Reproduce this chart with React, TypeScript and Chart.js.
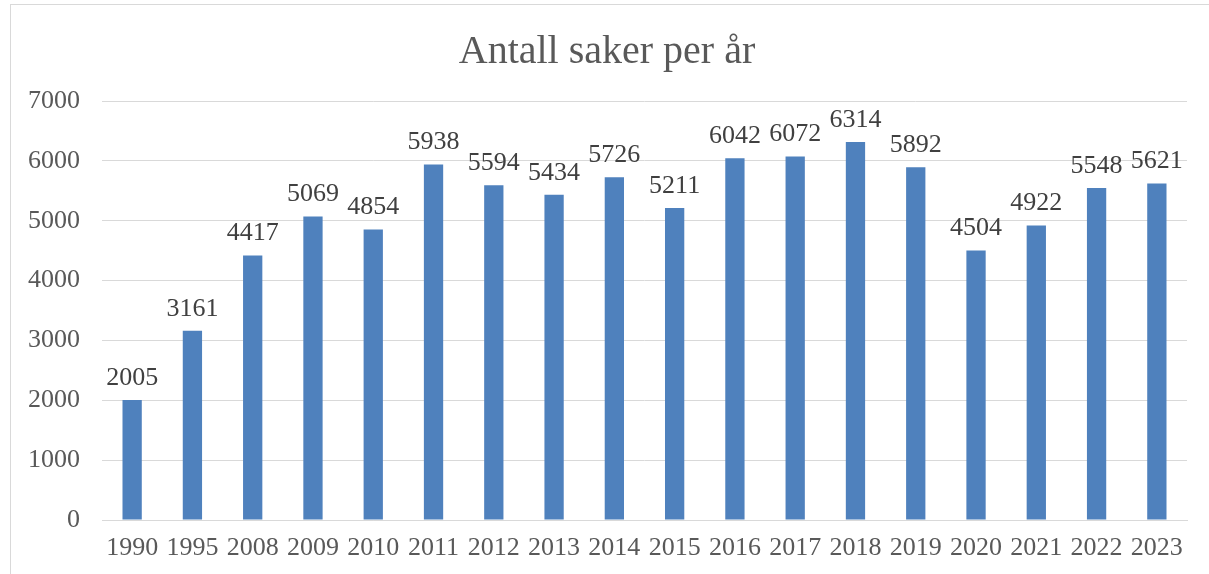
import React, { useEffect, useRef } from "react";
import { Chart, registerables } from "chart.js";

Chart.register(...registerables);

const categories: string[] = ["1990", "1995", "2008", "2009", "2010", "2011", "2012", "2013", "2014", "2015", "2016", "2017", "2018", "2019", "2020", "2021", "2022", "2023"];
const caseCounts: number[] = [2005, 3161, 4417, 5069, 4854, 5938, 5594, 5434, 5726, 5211, 6042, 6072, 6314, 5892, 4504, 4922, 5548, 5621];
const chartTitle = "Antall saker per år";
const yMax = 7000;
const yStep = 1000;

const FONT = "'Liberation Serif', 'DejaVu Serif', serif";

const valueLabels = {
  id: "valueLabels",
  afterDatasetsDraw(chart: any) {
    const ctx = chart.ctx;
    const meta = chart.getDatasetMeta(0);
    const data = chart.data.datasets[0].data as number[];
    ctx.save();
    ctx.font = `26px ${FONT}`;
    ctx.fillStyle = "#404040";
    ctx.textAlign = "center";
    ctx.textBaseline = "bottom";
    meta.data.forEach((el: any, i: number) => {
      ctx.fillText(String(data[i]), el.x, el.y - 9);
    });
    ctx.restore();
  },
};

export default function App() {
  const ref = useRef<HTMLCanvasElement | null>(null);
  useEffect(() => {
    if (!ref.current) return;
    const chart = new Chart(ref.current, {
      type: "bar",
      data: {
        labels: categories,
        datasets: [
          {
            label: chartTitle,
            data: caseCounts,
            backgroundColor: "#4F81BD",
            borderWidth: 0,
            barPercentage: 0.32,
            categoryPercentage: 1,
          },
        ],
      },
      options: {
        animation: false,
        responsive: false,
        maintainAspectRatio: false,
        layout: { padding: { left: 27, right: 22, top: 0, bottom: 0 } },
        plugins: {
          legend: { display: false },
          tooltip: { enabled: false },
          title: {
            display: true,
            text: chartTitle,
            color: "#595959",
            font: { family: FONT, size: 40, weight: "normal", lineHeight: 1.2 },
            padding: { top: 28, bottom: 25 },
          },
        },
        scales: {
          x: {
            grid: { display: false, drawTicks: false },
            border: { display: true, color: "#d9d9d9", width: 1 },
            ticks: {
              color: "#595959",
              font: { family: FONT, size: 26 },
              padding: 13,
              maxRotation: 0,
              autoSkip: false,
            },
            afterFit(scale: any) {
              scale.height = 54;
            },
          },
          y: {
            min: 0,
            max: yMax,
            grid: { color: "#d9d9d9", lineWidth: 1, drawTicks: false },
            border: { display: false },
            ticks: {
              stepSize: yStep,
              color: "#595959",
              font: { family: FONT, size: 26 },
              padding: 22,
              callback: (v: any) => String(v),
            },
            afterFit(scale: any) {
              scale.width = 75;
            },
          },
        },
      },
      plugins: [valueLabels],
    });
    return () => chart.destroy();
  }, []);

  return (
    <div style={{ position: "fixed", left: 0, top: 0, width: 1209, height: 574, background: "#fff", overflow: "hidden" }}>
      <div
        style={{
          position: "absolute",
          left: 10,
          top: 4,
          width: 1220,
          height: 600,
          borderLeft: "1px solid #d9d9d9",
          borderTop: "1px solid #d9d9d9",
        }}
      />
      <canvas ref={ref} width={1209} height={574} style={{ position: "absolute", left: 0, top: 0 }} />
    </div>
  );
}
